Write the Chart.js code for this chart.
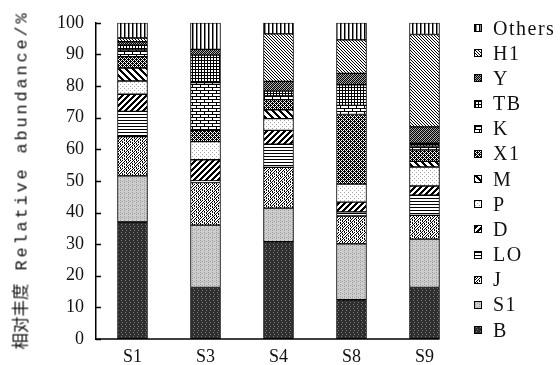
<!DOCTYPE html>
<html>
<head>
<meta charset="utf-8">
<script src="https://cdn.jsdelivr.net/npm/chart.js@4/dist/chart.umd.min.js"></script>
<style>
  html, body { margin: 0; padding: 0; background: #fff; }
  #wrap { position: relative; width: 560px; height: 365px; overflow: hidden; }
  #c { position: absolute; left: 0; top: 0; }
  #ytitle { position: absolute; left: 21px; top: 180px; white-space: nowrap;
    transform: translate(-50%, -50%) rotate(-90deg); color: #111; line-height: 17px; }
  #ytitle .cjk { font-family: "Noto Sans CJK SC", sans-serif; font-size: 16.5px; letter-spacing: 0; }
  #ytitle .lat { font-family: "Liberation Mono", monospace; font-size: 17px; letter-spacing: 2.8px; }
  .lg { position: absolute; left: 474px; height: 25px; display: flex; align-items: center;
    font-family: "Liberation Serif", serif; font-size: 20px; letter-spacing: 1.5px; color: #111; }
  .lg canvas { border: 1px solid #000; width: 6px; height: 6px; margin-right: 11px; }
</style>
</head>
<body>
<div id="wrap">
  <canvas id="c" width="560" height="365"></canvas>
  <div id="ytitle"><span class="cjk">相对丰度</span><span class="lat"> Relative abundance/%</span></div>
</div>
<script>
// ---- data ----
const categories = ['S1', 'S3', 'S4', 'S8', 'S9'];
const seriesNames = ['B', 'S1', 'J', 'LO', 'D', 'P', 'M', 'X1', 'K', 'TB', 'Y', 'H1', 'Others'];
const B      = [37.0, 16.3, 30.8, 12.4, 16.3];
const S1     = [14.6, 19.7, 10.6, 17.7, 15.3];
const J      = [12.4, 13.5, 12.9,  8.8,  7.5];
const LO     = [ 8.0,  0.5,  7.3,  1.3,  6.4];
const D      = [ 5.4,  6.7,  4.4,  3.1,  2.9];
const P      = [ 4.2,  5.7,  3.7,  5.7,  6.0];
const M      = [ 4.1,  0.0,  2.8,  0.0,  1.8];
const X1     = [ 3.6,  3.6,  3.2, 22.0,  3.6];
const K      = [ 2.1, 15.1,  1.2,  2.9,  1.2];
const TB     = [ 1.5,  8.7,  1.5,  6.5,  0.9];
const Y      = [ 1.1,  1.8,  3.1,  3.6,  5.2];
const H1     = [ 1.2,  0.0, 15.0, 10.6, 29.2];
const Others = [ 4.8,  8.4,  3.5,  5.4,  3.7];
const yTicks = [0, 10, 20, 30, 40, 50, 60, 70, 80, 90, 100];

const seriesValues = [B, S1, J, LO, D, P, M, X1, K, TB, Y, H1, Others];

// ---- pattern styles (bitmaps) ----
const palette = { '#': '#000000', '.': '#ffffff', 'g': '#8a8a8a', 'd': '#2e2e2e', 'm': '#5e5e5e',
  'l': '#cdcdcd', 'k': '#9c9c9c', 'p': '#a8a8a8', 'q': '#7a7a7a', 'w': '#bdbdbd' };
const tiles = {
  B:  ['dqdd', 'dddd', 'ddqd', 'dddd'],
  S1: ['klll', 'llkl', 'klll', 'llll'],
  J:  ['#.#..#..', '.#..#.#.', '#..#..#.', '..#.#..#', '.#..#.#.', '#.#...#.', '..#.#..#', '#...#.#.'],
  LO: ['####', '....', '....'],
  D:  null, M: null, H1: null,
  P:  ['p...', '....', '..p.', '....'],
  X1: ['#.#.', '.###', '#.#.', '##.#'],
  K:  ['########', '#.......', '#.......', '########', '....#...', '....#...'],
  TB: ['###', '#..', '#..'],
  Y:  ['#g#w', 'g#w#', '#w#g', 'w#g#'],
  Others: ['#g..']
};
function diag(n, on, back) {
  const rows = [];
  for (let y = 0; y < n; y++) {
    let s = '';
    for (let x = 0; x < n; x++) {
      const v = back ? ((x - y) % n + n) % n : (x + y) % n;
      s += v < on ? '#' : '.';
    }
    rows.push(s);
  }
  return rows;
}
tiles.D = diag(6, 3, false);
tiles.M = diag(7, 3, true);
tiles.H1 = diag(3, 1, true);

function makePattern(name) {
  const rows = tiles[name];
  const c = document.createElement('canvas');
  c.width = rows[0].length; c.height = rows.length;
  const x = c.getContext('2d');
  rows.forEach((r, j) => { for (let i = 0; i < r.length; i++) { x.fillStyle = palette[r[i]]; x.fillRect(i, j, 1, 1); } });
  return c;
}
const ctxMain = document.getElementById('c').getContext('2d');
const patterns = {};
seriesNames.forEach(n => { patterns[n] = ctxMain.createPattern(makePattern(n), 'repeat'); });

// ---- legend (HTML, reversed order) ----
const wrap = document.getElementById('wrap');
seriesNames.slice().reverse().forEach((n, i) => {
  const row = document.createElement('div');
  row.className = 'lg';
  row.style.top = (15.5 + i * 25.17) + 'px';
  const sw = document.createElement('canvas');
  sw.width = 6; sw.height = 6;
  const sx = sw.getContext('2d');
  sx.fillStyle = sx.createPattern(makePattern(n), 'repeat');
  sx.fillRect(0, 0, 6, 6);
  row.appendChild(sw);
  const t = document.createElement('span');
  t.textContent = n;
  row.appendChild(t);
  wrap.appendChild(row);
});

// ---- axis decorations ----
const axisPlugin = {
  id: 'axisDeco',
  afterDatasetsDraw(chart) {
    const { ctx, chartArea, scales } = chart;
    const ys = scales.y;
    ctx.save();
    ctx.strokeStyle = '#000';
    ctx.lineWidth = 1.5;
    ys.ticks.forEach((t, i) => {
      const py = Math.round(ys.getPixelForTick(i)) + 0.5;
      ctx.beginPath();
      ctx.moveTo(chartArea.left, py);
      ctx.lineTo(chartArea.left + 5, py);
      ctx.stroke();
    });
    const meta = chart.getDatasetMeta(0);
    const last = meta.data[meta.data.length - 1];
    const right = last.x + last.width / 2;
    ctx.beginPath();
    ctx.moveTo(chartArea.left - 0.75, chartArea.bottom);
    ctx.lineTo(right, chartArea.bottom);
    ctx.stroke();
    ctx.restore();
  }
};

new Chart(ctxMain, {
  type: 'bar',
  data: {
    labels: categories,
    datasets: seriesNames.map((n, i) => ({
      label: n,
      data: seriesValues[i],
      backgroundColor: patterns[n],
      borderColor: '#000',
      borderWidth: 1,
      borderSkipped: false,
      barThickness: 30
    }))
  },
  options: {
    responsive: false,
    animation: false,
    devicePixelRatio: 1,
    layout: { padding: { left: 52, right: 99, top: 17, bottom: 0 } },
    plugins: { legend: { display: false }, tooltip: { enabled: false } },
    scales: {
      x: {
        stacked: true,
        grid: { display: false, tickLength: 0 },
        border: { display: false },
        ticks: { color: '#111', padding: 7, font: { family: 'Liberation Serif', size: 18 } },
        afterFit: s => { s.height = 26; }
      },
      y: {
        stacked: true,
        min: 0, max: 100,
        afterBuildTicks: s => { s.ticks = yTicks.map(v => ({ value: v })); },
        grid: { display: false, tickLength: 0 },
        border: { display: true, color: '#000', width: 1.5 },
        ticks: { color: '#111', padding: 12, font: { family: 'Liberation Serif', size: 18 } },
        afterFit: s => { s.width = 44; }
      }
    }
  },
  plugins: [axisPlugin]
});
</script>
</body>
</html>
